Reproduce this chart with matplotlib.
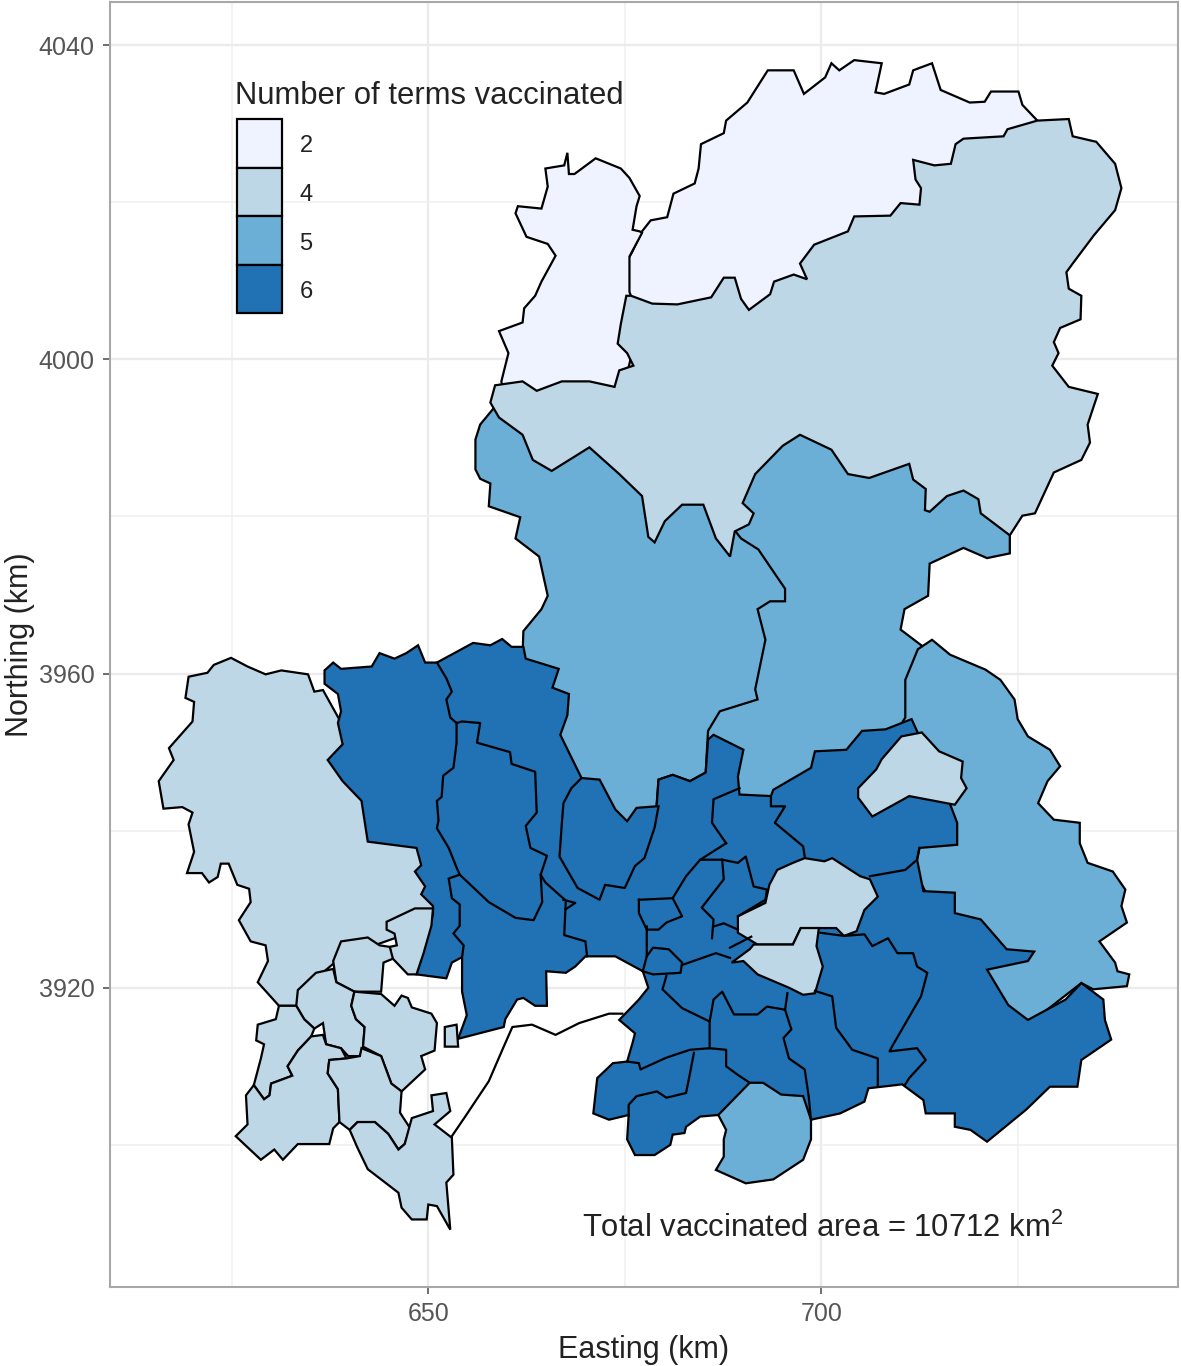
import matplotlib
matplotlib.use("Agg")
import matplotlib.pyplot as plt
from matplotlib.patches import Rectangle

plt.rcParams['font.family'] = ['Liberation Sans', 'DejaVu Sans']
plt.rcParams['mathtext.default'] = 'regular'

# ===== Tick values, legend =====
x_major = [650, 700]
x_minor = [625, 675, 725]
y_major = [3920, 3960, 4000, 4040]
y_minor = [3900, 3940, 3980, 4020]
legend_labels = ["2", "4", "5", "6"]
term_colors = {2: "#EFF3FF", 4: "#BDD7E7", 5: "#6BAED6", 6: "#2171B5"}

# ===== District outlines, (easting km, northing km) =====
north_a = [(675.9,4013.6),(677.2,4016.3),(678.3,4017.7),(680.4,4018.1),(681.2,4021.1),(683.9,4022.4),(684.4,4024.3),(684.7,4027.4),(687.6,4028.8),(687.9,4030.4),(690.6,4032.7),(693.2,4036.8),(696.5,4036.8),(697.8,4033.8),(700.5,4035.9),(701.3,4037.7),(702.3,4036.8),(704.2,4038.1),(707.7,4037.7),(706.9,4034.0),(708.0,4033.8),(711.2,4035.0),(711.7,4036.8),(714.1,4037.7),(715.2,4034.3),(718.9,4032.7),(720.8,4032.8),(721.6,4034.1),(725.1,4034.1),(725.6,4032.4),(727.5,4030.4),(726.2,4021.3),(704.7,4009.9),(683.4,4003.1),(675.1,4006.7),(675.1,4012.2)]
north_c = [(676.9,4016.3),(676.0,4016.5),(676.5,4019.5),(676.9,4020.8),(675.6,4023.1),(674.5,4024.3),(671.3,4025.6),(668.6,4023.6),(667.9,4023.6),(667.7,4026.3),(667.3,4024.7),(664.9,4024.3),(665.2,4022.0),(664.4,4019.2),(661.4,4019.5),(661.1,4018.6),(662.5,4015.6),(665.2,4014.7),(666.2,4013.2),(664.4,4009.9),(663.6,4008.1),(662.2,4006.5),(662.0,4004.7),(659.0,4003.6),(660.2,4000.8),(659.3,3997.2),(659.8,3994.0),(674.3,3994.0),(676.9,4004.9),(675.6,4008.6),(675.6,4013.1),(677.2,4016.1)]
north_b = [(658.5,3996.7),(662.0,3997.2),(663.8,3996.0),(667.0,3997.2),(670.5,3997.2),(673.7,3996.5),(674.3,3998.6),(676.1,3999.2),(675.3,4000.8),(674.1,4002.0),(674.5,4004.5),(675.2,4008.1),(675.8,4008.1),(678.5,4007.1),(681.7,4007.0),(686.0,4007.9),(687.6,4010.4),(689.0,4010.4),(689.8,4007.7),(690.8,4006.3),(693.5,4008.3),(694.0,4009.9),(696.5,4010.8),(698.2,4010.2),(697.3,4012.2),(699.1,4014.6),(703.4,4016.3),(704.2,4018.2),(708.8,4018.3),(710.1,4019.9),(712.5,4019.7),(712.7,4021.8),(712.0,4022.9),(711.7,4025.4),(714.4,4024.7),(716.5,4024.9),(717.1,4027.4),(718.1,4028.1),(723.2,4028.4),(723.7,4029.3),(727.5,4030.4),(731.5,4030.6),(732.0,4028.4),(735.0,4027.7),(737.4,4024.9),(738.2,4021.8),(737.4,4019.0),(734.7,4015.8),(732.0,4012.2),(731.2,4011.1),(731.5,4009.0),(733.1,4008.1),(733.0,4005.1),(730.4,4004.0),(729.6,4002.2),(730.2,4000.8),(729.4,3999.2),(731.5,3996.5),(735.2,3995.6),(733.9,3991.7),(734.2,3989.4),(733.1,3987.2),(729.6,3985.6),(727.2,3980.4),(725.6,3980.1),(724.0,3977.6),(720.3,3980.4),(720.0,3982.2),(718.1,3983.3),(716.0,3982.6),(713.8,3980.6),(713.2,3980.8),(713.3,3983.5),(711.7,3984.7),(711.2,3986.7),(706.1,3984.9),(703.4,3985.4),(701.3,3988.5),(697.3,3990.4),(695.1,3989.0),(691.6,3985.4),(690.0,3981.7),(691.4,3980.4),(690.8,3979.0),(689.0,3978.1),(688.4,3974.9),(686.6,3977.2),(685.0,3981.5),(682.3,3981.5),(680.1,3979.4),(678.8,3976.7),(678.0,3977.4),(677.2,3982.6),(674.3,3985.4),(670.5,3988.8),(665.7,3985.8),(663.3,3987.2),(662.0,3990.4),(659.0,3992.6),(657.9,3994.5)]
mid_e = [(689.5,3983),(693,3991),(697.3,3993),(711,3990),(724,3980),(724.0,3975.3),(721.1,3974.7),(718.1,3976.0),(713.8,3974.0),(713.6,3969.9),(710.6,3968.2),(710.1,3965.6),(712.6,3963.7),(715,3962),(715,3956),(711,3952),(695,3940),(688,3940),(684,3950)]
east_f = [(710.7,3954.4),(710.7,3959.2),(712.3,3963.1),(714.1,3964.3),(716.4,3962.4),(720.9,3960.5),(722.8,3959.2),(724.6,3956.7),(725.0,3954.2),(726.3,3952.0),(729.1,3950.3),(730.4,3948.2),(728.8,3946.3),(727.6,3943.5),(729.6,3941.4),(732.9,3941.0),(732.9,3938.4),(733.9,3935.9),(737.1,3934.8),(738.7,3932.5),(738.2,3930.4),(738.9,3928.3),(735.4,3925.9),(737.4,3923.2),(737.7,3922.1),(739.2,3921.7),(738.9,3920.2),(734.6,3919.8),(733.1,3920.6),(726.3,3915.3),(719.5,3920.6),(712.0,3934.6),(712.0,3944),(709.5,3952.5)]
mid_d = [(658.5,3994),(675,3992),(680,3985),(688.8,3980),(689.1,3978.1),(689.8,3977.2),(692.0,3975.8),(695.4,3970.8),(695.4,3969.2),(693.5,3969.2),(691.9,3968.2),(692.9,3964.3),(691.6,3958.0),(691.9,3956.7),(687.1,3955.2),(685.6,3952.7),(685.3,3947.4),(683.3,3946.3),(681.1,3947.1),(679.3,3946.5),(679.05,3943.1),(678,3938),(675,3938),(668,3948),(664,3958),(662.0,3962.4),(662.1,3965.4),(664.4,3968.2),(665.2,3969.9),(664.1,3974.9),(661.1,3977.2),(661.7,3979.9),(657.7,3981.3),(657.9,3984.2),(656.6,3984.8),(656.0,3986.0),(656.0,3989.8),(656.6,3991.7)]
west_h = [(635.5,3957.7),(636.6,3957.9),(640.6,3950.7),(644.0,3941.0),(650.0,3937.0),(651.5,3929.4),(647.4,3926.9),(638.9,3923.9),(635.5,3921.0),(633.2,3917.7),(631.0,3917.7),(628.3,3920.7),(629.6,3923.4),(629.3,3925.4),(627.4,3925.9),(625.9,3928.6),(627.4,3930.9),(627.2,3932.6),(625.7,3933.1),(624.6,3935.8),(623.6,3935.8),(623.2,3934.1),(622.1,3933.4),(621.2,3934.6),(619.3,3934.6),(620.2,3937.3),(619.5,3940.8),(620.0,3942.3),(618.7,3943.0),(616.3,3942.8),(615.7,3946.3),(617.6,3949.0),(617.0,3950.5),(618.5,3952.2),(620.0,3953.9),(620.2,3956.4),(619.1,3956.9),(619.5,3959.6),(621.9,3960.1),(622.7,3961.1),(624.9,3962.0),(627.0,3960.9),(629.3,3959.9),(631.3,3960.4),(634.7,3959.9)]
west_j = [(644.7,3928.4),(648.3,3930.1),(650.6,3930.1),(650.4,3927.9),(649.4,3924.4),(648.5,3921.7),(647.4,3921.7),(645.3,3923.9),(645.1,3925.2),(646.0,3925.4),(645.7,3926.9),(644.7,3927.4)]
west_k = [(638.9,3925.9),(642.3,3926.4),(643.8,3925.4),(645.1,3925.2),(645.5,3923.7),(644.3,3923.2),(644.0,3919.5),(640.6,3919.5),(638.3,3920.7),(637.9,3923.4)]
west_l = [(633.4,3919.7),(635.7,3921.9),(637.9,3922.4),(638.3,3920.7),(640.6,3919.5),(640.2,3917.7),(640.8,3916.0),(641.9,3915.0),(641.7,3912.5),(641.3,3911.3),(639.8,3911.3),(638.9,3912.3),(637.0,3912.8),(636.6,3915.5),(635.5,3914.8),(634.2,3916.0),(633.2,3917.7)]
west_m = [(640.6,3919.5),(644.0,3919.2),(645.7,3917.7),(646.6,3919.0),(647.4,3918.7),(647.9,3917.5),(650.4,3916.7),(651.1,3915.5),(650.8,3912.0),(649.1,3911.3),(649.6,3909.6),(646.6,3906.8),(645.3,3907.8),(644.0,3911.3),(641.7,3912.5),(641.9,3915.0),(640.8,3916.0),(640.2,3917.7)]
west_n = [(631.0,3917.7),(633.2,3917.7),(634.2,3916.0),(635.5,3914.8),(635.1,3913.8),(633.4,3912.0),(632.1,3910.0),(632.7,3908.8),(630.0,3907.8),(629.8,3906.3),(629.1,3905.8),(627.8,3907.6),(628.7,3911.0),(629.1,3912.8),(628.1,3913.3),(628.3,3915.3),(630.6,3916.0)]
west_o = [(635.1,3913.8),(636.6,3914.0),(637.0,3912.8),(638.9,3912.3),(639.6,3911.0),(637.4,3910.8),(637.2,3909.1),(638.5,3907.1),(638.7,3902.9),(637.9,3902.1),(637.4,3900.1),(633.4,3900.1),(631.5,3898.1),(630.4,3899.4),(628.7,3898.1),(625.5,3901.1),(627.0,3902.6),(626.8,3906.3),(627.8,3907.6),(629.1,3905.8),(629.8,3906.3),(630.0,3907.8),(632.7,3908.8),(632.1,3910.0),(633.4,3912.0)]
west_p = [(639.6,3911.0),(641.3,3911.3),(641.5,3912.3),(644.0,3911.3),(645.3,3907.8),(646.6,3906.8),(646.4,3904.1),(647.7,3902.1),(647.0,3900.1),(646.2,3899.4),(644.9,3901.4),(643.2,3902.9),(641.0,3902.9),(640.0,3901.9),(638.7,3902.9),(638.5,3907.1),(637.2,3909.1),(637.4,3910.8)]
west_q = [(640.0,3901.9),(641.0,3902.9),(643.2,3902.9),(644.9,3901.4),(646.2,3899.4),(647.0,3900.1),(647.9,3903.4),(650.6,3904.3),(650.4,3906.3),(652.3,3906.6),(652.8,3904.3),(650.8,3902.6),(653.0,3900.9),(653.2,3896.2),(652.3,3895.2),(652.8,3889.2),(651.1,3892.2),(650.0,3892.4),(649.8,3890.5),(647.9,3890.5),(646.6,3892.0),(646.2,3893.9),(642.3,3896.9),(641.0,3899.6)]
west_r = [(652.1,3915.0),(653.6,3915.3),(653.8,3912.5),(652.1,3912.5)]
bay_line = [(653.0,3901.1),(654.7,3903.6),(657.7,3908.1),(659.6,3912.5),(660.7,3915.0),(663.2,3915.3),(666.2,3914.0),(669.2,3915.5),(673.0,3916.7),(674.7,3916.7)]

central_base = [(651.1,3961.4),(655.7,3963.9),(657.9,3963.6),(659.4,3964.4),(660.6,3963.4),(662.1,3963.4),(662.4,3961.9),(666.6,3960.6),(665.8,3958.2),(667.9,3957.4),(667.7,3954.7),(666.8,3952.2),(669.5,3946.7),(671.8,3946.5),(673.8,3942.7),(675.3,3941.2),(676.5,3942.9),(679.05,3943.1),(679.3,3946.5),(681.1,3947.1),(683.3,3946.3),(685.3,3947.4),(685.6,3951.6),(686.3,3952.2),(690.1,3950.3),(689.4,3946.9),(689.6,3944.6),(693.6,3944.4),(693.9,3945.2),(698.7,3948.0),(699.2,3950.1),(703.2,3950.3),(705.2,3952.7),(708.2,3952.9),(711.5,3954.2),(712.0,3953.1),(716.5,3943.1),(717.3,3941.0),(717.3,3938.2),(712.5,3937.8),(712.2,3936.3),(713.0,3932.3),(717.0,3932.1),(717.0,3929.5),(720.3,3928.7),(723.6,3924.9),(727.1,3924.6),(726.3,3923.4),(721.1,3922.3),(723.8,3917.8),(726.3,3915.9),(731.1,3918.5),(733.1,3920.6),(735.9,3918.5),(736.1,3915.9),(736.9,3913.4),(733.1,3910.8),(732.6,3907.4),(729.1,3907.4),(726.1,3904.5),(721.1,3900.4),(719.0,3901.9),(717.0,3902.3),(717.0,3904.0),(713.3,3904.0),(713.0,3905.7),(710.3,3907.7),(706.0,3907.2),(705.5,3905.5),(702.4,3904.0),(698.7,3903.2),(686.9,3903.8),(684.6,3903.6),(682.8,3902.3),(682.6,3901.5),(681.1,3901.3),(680.8,3900.0),(678.8,3898.7),(676.3,3898.7),(675.3,3900.7),(675.5,3903.8),(673.0,3903.2),(671.0,3904.0),(671.5,3908.5),(673.5,3910.4),(675.3,3910.6),(676.0,3913.0),(676.3,3914.2),(674.3,3915.9),(676.8,3918.5),(678.0,3920.0),(677.3,3922.1),(673.8,3924.0),(670.0,3924.0),(668.7,3922.7),(667.5,3921.9),(665.0,3922.1),(665.1,3917.7),(663.6,3917.7),(662.1,3918.7),(661.3,3918.5),(659.8,3916.0),(659.6,3915.0),(653.8,3913.5),(654.9,3916.5),(654.3,3919.5),(654.3,3923.7),(652,3930),(650,3945)]
dark_g1 = [(636.8,3960.4),(637.9,3961.4),(638.9,3960.6),(642.8,3960.9),(643.8,3962.6),(645.7,3961.9),(647.2,3962.6),(648.7,3963.6),(649.6,3961.4),(651.1,3961.4),(652.3,3959.4),(653.0,3957.7),(652.3,3956.7),(652.8,3954.4),(653.6,3953.7),(653.6,3951.2),(653.2,3948.0),(651.9,3947.0),(651.7,3944.3),(651.1,3943.8),(651.3,3941.3),(651.1,3940.3),(652.6,3937.8),(653.6,3935.3),(654.0,3934.4),(652.6,3933.9),(653.0,3931.4),(654.0,3930.6),(654.0,3927.9),(653.2,3926.9),(654.5,3925.4),(654.3,3923.9),(653.0,3923.2),(652.3,3921.2),(648.5,3921.7),(649.0,3923.4),(650.6,3929.4),(650.6,3930.4),(649.1,3931.9),(649.6,3932.9),(648.3,3934.8),(649.1,3935.6),(648.5,3937.8),(642.3,3938.6),(641.5,3943.8),(639.1,3946.3),(637.2,3949.0),(639.1,3951.0),(638.5,3953.7),(638.9,3955.2),(638.5,3957.4),(636.8,3958.7)]

# inner borders between the dark districts
inner_lines = [
    [(653.6,3953.7),(654.3,3953.9),(656.6,3953.7),(656.2,3951.2),(660.4,3950.0),(660.6,3948.5),(663.6,3947.5),(663.8,3942.3),(662.4,3940.6),(663.0,3937.8),(665.1,3936.8),(664.3,3934.4),(664.5,3930.9),(663.4,3928.6),(661.1,3928.9),(657.7,3930.9),(654.0,3934.4)],
    [(669.5,3946.7),(668.2,3945.4),(667.2,3943.5),(667.0,3941.0),(666.7,3936.7),(669.0,3932.7),(671.8,3931.2),(672.5,3933.1),(675.0,3932.7),(676.3,3935.5),(677.5,3936.5),(678.8,3940.4),(679.3,3943.1)],
    [(664.3,3934.4),(664.9,3933.4),(667.5,3931.1),(667.3,3926.7),(670.0,3925.9),(670.2,3924.0)],
    [(667.2,3931.2),(668.7,3930.8),(667.5,3930.0)],
    [(676.8,3931.2),(681.1,3931.4),(682.3,3929.1),(680.3,3928.3),(679.3,3927.4),(677.8,3927.4),(676.8,3929.5),(676.8,3931.2)],
    [(677.8,3927.8),(677.8,3924.0),(677.3,3922.1)],
    [(681.1,3931.4),(682.8,3934.2),(684.6,3936.3),(687.1,3936.3)],
    [(684.6,3936.3),(687.9,3938.4)],
    [(687.4,3936.3),(687.6,3933.8),(684.8,3930.2),(686.3,3928.7),(686.1,3926.3)],
    [(687.4,3936.3),(689.4,3935.9),(690.4,3936.7),(691.4,3932.9),(693.1,3932.5),(692.9,3931.2),(689.4,3929.1)],
    [(686.3,3927.8),(687.6,3928.2),(689.4,3927.4)],
    [(689.6,3945.4),(686.3,3944.0),(686.1,3941.0),(687.9,3938.4)],
    [(693.6,3944.4),(693.6,3943.1),(695.4,3943.1),(694.1,3941.0),(697.7,3938.0),(697.9,3936.7)],
    [(688.4,3925.1),(691.1,3926.5)],
    [(677.8,3924.0),(678.6,3925.1),(680.6,3924.9),(682.3,3923.2),(682.1,3921.9),(678.6,3921.7),(677.3,3922.1)],
    [(682.3,3922.9),(686.6,3924.4),(688.4,3923.8)],
    [(680.3,3921.5),(679.8,3919.8),(682.3,3917.4),(685.8,3915.7),(686.3,3918.5),(687.4,3919.5),(688.9,3916.6),(691.9,3916.6),(693.1,3917.6),(695.4,3917.2),(695.7,3919.3)],
    [(685.8,3915.7),(685.8,3912.3),(683.3,3912.1),(680.3,3911.1),(677.0,3909.6),(676.8,3910.4),(675.3,3910.6)],
    [(683.8,3911.7),(683.3,3909.1),(682.8,3906.6),(680.3,3906.0),(679.1,3906.8),(676.5,3906.2),(675.5,3905.1),(675.5,3903.8)],
    [(685.8,3912.3),(687.9,3912.1),(687.9,3910.0),(689.4,3908.9),(690.9,3907.9)],
    [(695.4,3917.2),(696.2,3914.7),(695.2,3913.6),(695.9,3911.0),(697.9,3909.6),(698.4,3906.2),(698.7,3903.2)],
    [(699.9,3927.0),(702.9,3926.6),(705.5,3926.8),(706.5,3925.3),(708.5,3926.3),(709.7,3924.4),(711.7,3924.4),(712.2,3922.7),(713.5,3921.9),(712.7,3918.9),(709.0,3912.5),(708.7,3911.9),(712.2,3912.3),(713.3,3910.8),(711.2,3908.5),(710.7,3907.7)],
    [(699.2,3919.6),(701.4,3918.9),(701.9,3914.9),(703.95,3912.1),(707.2,3911.0),(707.2,3907.4)],
    [(706.2,3934.2),(710.7,3935.0),(712.2,3936.3),(712.5,3937.8)],
]

patch_t = [(694.4,3935.0),(696.4,3935.9),(697.9,3936.5),(700.4,3936.1),(701.4,3936.5),(704.96,3934.2),(706.2,3933.8),(707.2,3931.6),(705.5,3929.9),(704.5,3927.2),(702.9,3926.6),(701.9,3927.6),(697.4,3927.6),(696.4,3925.5),(691.9,3925.5),(689.4,3927.0),(689.4,3929.1),(692.9,3930.8),(693.4,3933.1)]
patch_v = [(697.4,3927.6),(699.7,3927.6),(699.4,3925.3),(700.2,3922.7),(699.2,3919.3),(697.7,3919.1),(695.9,3920.0),(691.9,3921.7),(690.1,3923.4),(688.6,3923.2),(690.9,3924.9),(691.4,3925.5),(696.4,3925.5)]
patch_s = [(712.8,3952.5),(715.0,3950.1),(718.0,3948.8),(717.8,3946.7),(718.5,3945.4),(717.0,3943.3),(711.2,3944.4),(706.5,3941.8),(704.7,3944.2),(704.7,3945.4),(707.0,3947.8),(707.7,3949.1),(710.2,3952.0)]
patch_u = [(686.9,3903.8),(690.9,3907.9),(692.6,3907.9),(694.9,3906.4),(697.7,3906.2),(698.7,3903.2),(698.7,3900.7),(697.7,3898.1),(693.9,3895.6),(690.4,3895.1),(686.6,3896.8),(687.6,3898.5),(687.6,3900.7),(687.9,3901.9)]

# drawing order matters, later districts sit on top of the earlier ones
districts = [
    (north_a, 2), (north_c, 2), (mid_e, 5), (east_f, 5), (mid_d, 5), (north_b, 4),
    (west_h, 4), (central_base, 6), (dark_g1, 6),
]
top_districts = [
    (west_j, 4), (west_k, 4), (west_l, 4), (west_m, 4), (west_n, 4), (west_o, 4),
    (west_p, 4), (west_q, 4), (west_r, 4), (patch_t, 4), (patch_v, 4), (patch_s, 4), (patch_u, 5),
]

# ===== Plot =====
fig = plt.figure(figsize=(11.81, 13.66), dpi=100)
ax = fig.add_axes([110/1181, 79/1366, 1068/1181, 1285/1366])
ax.set_xlim(609.5, 745.4)
ax.set_ylim(3881.9, 4045.5)

ax.set_xticks(x_major)
ax.set_xticks(x_minor, minor=True)
ax.set_yticks(y_major)
ax.set_yticks(y_minor, minor=True)
ax.grid(which='major', color='#ebebeb', lw=1.7)
ax.grid(which='minor', color='#f0f0f0', lw=1.1)
ax.set_axisbelow(True)
ax.tick_params(which='minor', length=0)
ax.tick_params(which='major', length=5, width=1.2, color='#555555', labelcolor='#555555', labelsize=18, pad=6)
for s in ax.spines.values():
    s.set_color('#a8a8a8')
    s.set_linewidth(1.5)

edge_lw = 1.6
for pts, terms in districts:
    ax.fill([p[0] for p in pts], [p[1] for p in pts], facecolor=term_colors[terms], edgecolor='black', lw=edge_lw)
for line in inner_lines:
    ax.plot([p[0] for p in line], [p[1] for p in line], color='black', lw=edge_lw)
ax.plot([p[0] for p in bay_line], [p[1] for p in bay_line], color='black', lw=edge_lw)
for pts, terms in top_districts:
    ax.fill([p[0] for p in pts], [p[1] for p in pts], facecolor=term_colors[terms], edgecolor='black', lw=edge_lw)

ax.set_xlabel("Easting (km)", fontsize=22, labelpad=6, color='#222222')
ax.set_ylabel("Northing (km)", fontsize=22, labelpad=3, color='#222222')

ax.text(625.4, 4033.5, "Number of terms vaccinated", fontsize=22.3, va='center', color='#222222')
key_w, key_h = 5.85, 6.18
for i, lab in enumerate(legend_labels):
    y0 = 4030.6 - (i + 1) * key_h
    ax.add_patch(Rectangle((625.6, y0), key_w, key_h, facecolor=term_colors[int(lab)], edgecolor='black', lw=1.6, zorder=3))
    ax.text(633.6, y0 + key_h / 2 - 0.4, lab, fontsize=17, va='center', color='#222222')

ax.text(669.6, 3889.4, "Total vaccinated area = 10712 km$^{2}$", fontsize=22.3, va='center', color='#222222')

fig.savefig("out.png", dpi=100)
